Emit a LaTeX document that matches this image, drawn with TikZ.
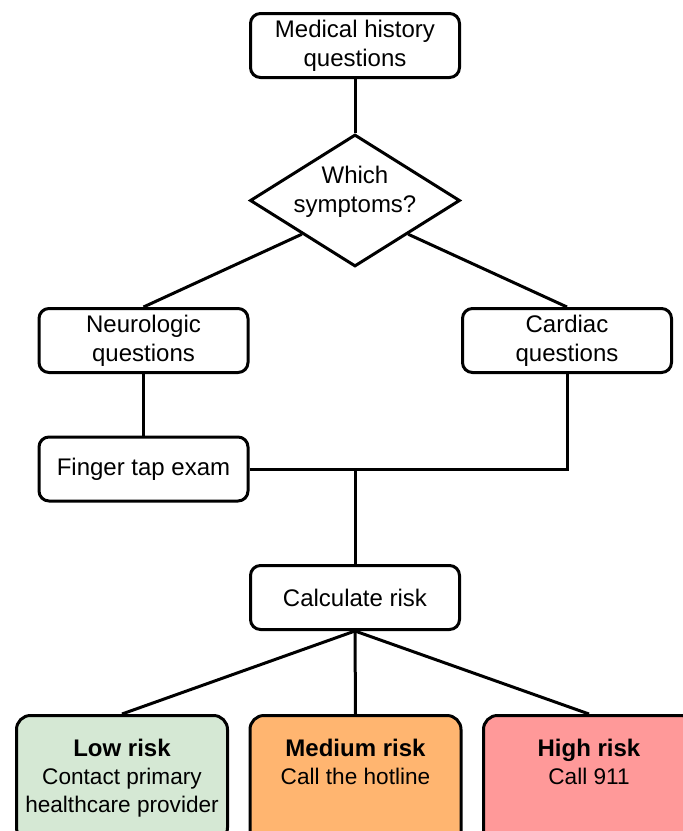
\documentclass[tikz,border=0pt]{standalone}
\usepackage{fontspec}
\setmainfont{Liberation Sans}
\usetikzlibrary{shapes.geometric}
\definecolor{rLow}{HTML}{D5E8D4}
\definecolor{rMid}{HTML}{FFB570}
\definecolor{rHigh}{HTML}{FF9999}
\newcommand{\riskhead}[1]{{\fontsize{12}{14}\selectfont\bfseries #1}}
\tikzset{
  box/.style   = {draw=black, fill=white, line width=1.5pt, rounded corners=5pt, align=center,
                  font=\fontsize{12}{14.5}\selectfont, minimum width=104.5pt, minimum height=32pt,
                  inner sep=2pt},
  dec/.style   = {diamond, draw=black, fill=white, line width=1.5pt, aspect=1.6, inner sep=0pt,
                  minimum width=105pt, minimum height=66pt},
  dectxt/.style= {align=center, font=\fontsize{12}{14.5}\selectfont, yshift=4.5pt},
  risk/.style  = {box, rounded corners=7pt, anchor=north, minimum width=105.5pt, inner ysep=12pt,
                  font=\fontsize{11.3}{14}\selectfont},
  riskL/.style = {risk, fill=rLow},
  riskM/.style = {risk, fill=rMid},
  riskH/.style = {risk, fill=rHigh},
  ln/.style    = {draw=black, line width=1.5pt},
}

\begin{document}
\begin{tikzpicture}[x=0.5pt, y=-0.5pt]
  \useasboundingbox (0,0) rectangle (683,831);
  \clip (0,0) rectangle (683,831);
  \node[box]   (med)   at (355,45.5)  {Medical history\\questions};
  \node[dec, label={[dectxt]center:{Which\\symptoms?}}] (sym) at (355,200.5) {};
  \node[box]   (neuro) at (143.5,340.5) {Neurologic\\questions};
  \node[box]   (card)  at (567,340.5) {Cardiac\\questions};
  \node[box]   (tap)   at (143.5,469) {Finger tap exam};
  \node[box]   (calc)  at (355,597.5) {Calculate risk};
  \node[riskL] (low)   at (122,714)   {\riskhead{Low risk}\\Contact primary\\healthcare provider};
  \node[riskM] (mid)   at (355.5,714) {\riskhead{Medium risk}\\Call the hotline\\\strut};
  \node[riskH] (high)  at (589,714)   {\riskhead{High risk}\\Call 911\\\strut};
  \coordinate (jn) at (calc.north |- tap.east);
  \draw[ln] (med) -- (sym);
  \draw[ln] (sym.south west) -- (neuro.north);
  \draw[ln] (sym.south east) -- (card.north);
  \draw[ln] (neuro) -- (tap);
  \draw[ln] (tap.east) -| (card.south);
  \draw[ln] (jn) -- (calc);
  \draw[ln] (calc.south) -- (low.north);
  \draw[ln] (calc.south) -- (mid.north);
  \draw[ln] (calc.south) -- (high.north);
\end{tikzpicture}
\end{document}
